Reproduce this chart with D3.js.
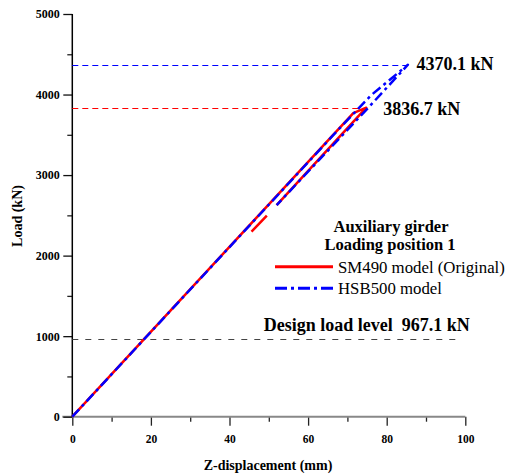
<!DOCTYPE html>
<html>
<head>
<meta charset="utf-8">
<script src="https://cdn.jsdelivr.net/npm/d3@7"></script>
<style>
body { margin: 0; background: #fff; }
svg text { font-family: "Liberation Serif", "Times New Roman", serif; }
.tick text { font-weight: bold; fill: #000; }
</style>
</head>
<body>
<svg id="chart" width="508" height="476"></svg>
<script>
// load - displacement curves (mm, kN); null = break in the line
var smDisp  = [0, 71.5, 74.8, 52.0, null, 49.5, 45.6];
var smLoad  = [0, 3770, 3836.7, 2628, null, 2496, 2297];
var hsbDisp = [0, 68, 76, 85.4, 75.5, 52.0];
var hsbLoad = [0, 3580, 3990, 4370.1, 3846, 2628];

// reference load levels
var refLoads  = [4370.1, 3836.7, 967.1];
var refEnds   = [85.4, 74.8, 99];
var refLabels = ["4370.1 kN", "3836.7 kN", "Design load level  967.1 kN"];

var xTicks = [0, 20, 40, 60, 80, 100];
var yTicks = [0, 1000, 2000, 3000, 4000, 5000];

var legendTitle = ["Auxiliary girder", "Loading position 1"];
var seriesNames = ["SM490 model (Original)", "HSB500 model"];

var serif = '"Liberation Serif", "Times New Roman", serif';

function pairs(xs, ys) {
    var out = [];
    for (var i = 0; i < xs.length; i++) {
        out.push([xs[i], ys[i]]);
    }
    return out;
}

function main() {
    var svg = d3.select("#chart");

    var x = d3.scaleLinear().domain([0, 100]).range([72.3, 465.3]);
    var y = d3.scaleLinear().domain([0, 5000]).range([416.7, 14]);

    // minor ticks
    svg.append("g")
        .attr("transform", "translate(0," + y(0) + ")")
        .call(d3.axisBottom(x).tickValues(d3.range(10, 100, 20)).tickSize(5).tickFormat(""))
        .call(function(g) { g.select(".domain").remove(); })
        .selectAll("line").attr("stroke", "#222").attr("stroke-width", 1.3);
    svg.append("g")
        .attr("transform", "translate(" + x(0) + ",0)")
        .call(d3.axisLeft(y).tickValues(d3.range(500, 5000, 1000)).tickSize(5).tickFormat(""))
        .call(function(g) { g.select(".domain").remove(); })
        .selectAll("line").attr("stroke", "#222").attr("stroke-width", 1.3);

    // x axis
    var gx = svg.append("g")
        .attr("transform", "translate(0," + y(0) + ")")
        .call(d3.axisBottom(x).tickValues(xTicks).tickFormat(d3.format("d"))
            .tickSize(9).tickPadding(9.4));
    gx.select(".domain").remove();
    gx.selectAll("line").attr("stroke", "#222").attr("stroke-width", 1.3);
    gx.selectAll("text").style("font-family", serif).style("font-size", "11.5px");
    svg.append("line")
        .attr("x1", x(0) - 10).attr("x2", x(100))
        .attr("y1", y(0)).attr("y2", y(0))
        .attr("stroke", "#888").attr("stroke-width", 2);

    // y axis
    var gy = svg.append("g")
        .attr("transform", "translate(" + x(0) + ",0)")
        .call(d3.axisLeft(y).tickValues(yTicks).tickFormat(d3.format("d"))
            .tickSize(9).tickPadding(3.5));
    gy.select(".domain").remove();
    gy.selectAll("line").attr("stroke", "#111").attr("stroke-width", 1.3);
    gy.selectAll("text").style("font-family", serif).style("font-size", "12px");
    svg.append("line")
        .attr("x1", x(0)).attr("x2", x(0))
        .attr("y1", y(5000)).attr("y2", y(0))
        .attr("stroke", "#000").attr("stroke-width", 1.5);

    svg.append("text")
        .text("Z-displacement (mm)")
        .attr("x", 268).attr("y", 470)
        .attr("text-anchor", "middle")
        .style("font-size", "14px").style("font-weight", "bold");
    svg.append("text")
        .text("Load (kN)")
        .attr("transform", "translate(21.5,216) rotate(-90)")
        .attr("text-anchor", "middle")
        .style("font-size", "14px").style("font-weight", "bold");

    // reference lines
    var refColors = ["#0000ff", "#ff0000", "#444"];
    var refDash = ["6,4", "6,4", "6,7"];
    var labelDx = [8.7, 17, 0];
    var labelDy = [5.7, 7, -8];
    for (var i = 0; i < refLoads.length; i++) {
        var ry = Math.round(y(refLoads[i])) + 0.5;
        svg.append("line")
            .attr("x1", x(0)).attr("x2", x(refEnds[i]))
            .attr("y1", ry).attr("y2", ry)
            .attr("stroke", refColors[i]).attr("stroke-width", 1.2)
            .attr("stroke-dasharray", refDash[i]);
        var lx = i == 2 ? x(48.7) : x(refEnds[i]) + labelDx[i];
        svg.append("text")
            .text(refLabels[i])
            .attr("x", lx).attr("y", y(refLoads[i]) + labelDy[i])
            .style("white-space", "pre")
            .style("font-size", "18px").style("font-weight", "bold");
    }

    // curves
    var line = d3.line()
        .defined(function(d) { return d[0] != null; })
        .x(function(d) { return x(d[0]); })
        .y(function(d) { return y(d[1]); });

    svg.append("path")
        .datum(pairs(smDisp, smLoad))
        .attr("d", line)
        .attr("fill", "none").attr("stroke", "#ff0000")
        .attr("stroke-width", 2.5).attr("stroke-linejoin", "round");
    svg.append("path")
        .datum(pairs(hsbDisp, hsbLoad))
        .attr("d", line)
        .attr("fill", "none").attr("stroke", "#0000ff")
        .attr("stroke-width", 2.5).attr("stroke-linejoin", "round")
        .attr("stroke-dasharray", "10,4,3,4");

    // legend
    svg.append("text").text(legendTitle[0])
        .attr("x", 391).attr("y", 231.7).attr("text-anchor", "middle")
        .style("font-size", "16.5px").style("font-weight", "bold");
    svg.append("text").text(legendTitle[1])
        .attr("x", 390).attr("y", 250).attr("text-anchor", "middle")
        .style("font-size", "16.5px").style("font-weight", "bold");

    var legColors = ["#ff0000", "#0000ff"];
    var legDash = [null, "12,4,3,4"];
    for (var j = 0; j < seriesNames.length; j++) {
        var ly = 266.7 + j * 21.6;
        svg.append("line")
            .attr("x1", 275).attr("x2", 333)
            .attr("y1", ly).attr("y2", ly)
            .attr("stroke", legColors[j]).attr("stroke-width", 3)
            .attr("stroke-dasharray", legDash[j]);
        svg.append("text").text(seriesNames[j])
            .attr("x", 338).attr("y", ly + 6)
            .style("font-size", "16.8px");
    }
}

main();
</script>
</body>
</html>
